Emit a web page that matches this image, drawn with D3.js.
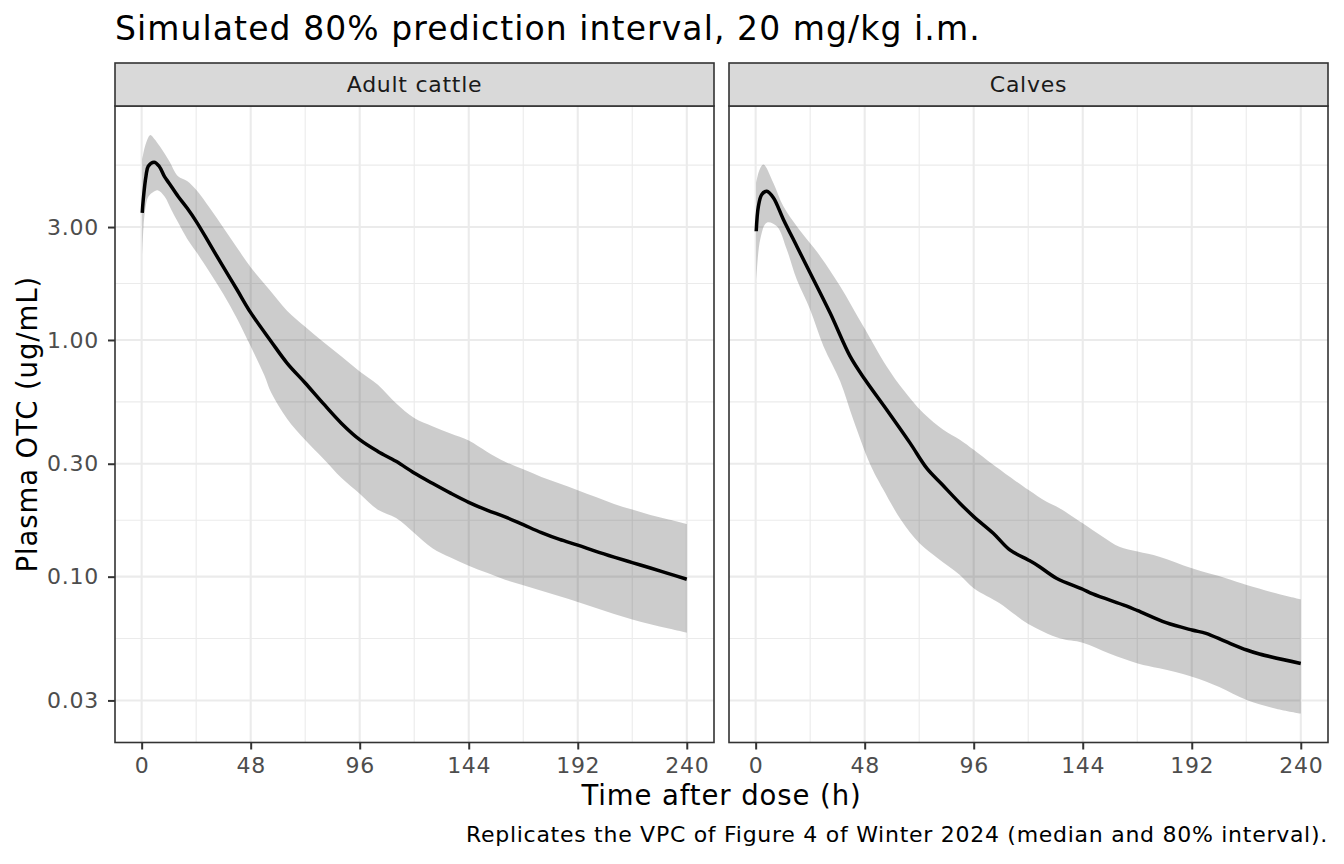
<!DOCTYPE html>
<html>
<head>
<meta charset="utf-8">
<script src="https://cdn.jsdelivr.net/npm/d3@7"></script>
<style>
  html, body { margin: 0; padding: 0; background: #fff; }
  svg { display: block; font-family: "DejaVu Sans", sans-serif; }
  svg text { letter-spacing: 0.033em; }
</style>
</head>
<body>
<svg id="chart" width="1344" height="864"></svg>
<script>
// facets
var panels = ["Adult cattle", "Calves"];

// adult cattle: median and 80% interval (time in h, conc in ug/mL)
var adultMedT = [0.25,0.7,1.9,2.9,5.5,7.7,10,12,16,20,24,30,36,42,48,57,64,72,80,88,96,104,112,120,128,136,144,152,160,168,176,184,192,200,208,216,224,232,240];
var adultMed  = [3.44,3.92,4.92,5.42,5.64,5.42,4.91,4.61,4.05,3.61,3.17,2.54,2.03,1.63,1.305,0.986,0.799,0.658,0.538,0.444,0.379,0.338,0.307,0.274,0.248,0.2253,0.206,0.191,0.179,0.1658,0.1535,0.1437,0.136,0.128,0.121,0.1147,0.1088,0.103,0.0975];
var adultUpT  = [0.25,1.5,3.8,5.5,8,12,16,20,24,30,36,42,48,56,64,72,80,88,96,104,112,120,128,136,144,152,160,168,176,184,192,200,208,216,224,232,240];
var adultUp   = [5.79,6.59,7.35,7.09,6.59,5.73,4.92,4.70,4.31,3.61,2.98,2.45,2.03,1.64,1.33,1.138,0.980,0.852,0.736,0.647,0.540,0.468,0.432,0.403,0.376,0.3375,0.306,0.284,0.264,0.2475,0.232,0.217,0.203,0.192,0.182,0.1746,0.167];
var adultLoT  = [0.25,0.8,1.9,3,5,7,10,13,16,20,24,30,36,42,48,54,57,64,72,80,88,96,104,112,120,128,136,144,152,160,168,176,184,192,200,208,216,224,232,240];
var adultLo   = [2.25,2.99,3.73,4.04,4.21,4.29,4.05,3.56,3.14,2.68,2.36,1.93,1.56,1.23,0.94,0.71,0.60,0.465,0.378,0.315,0.261,0.224,0.1917,0.177,0.153,0.132,0.1206,0.1113,0.1038,0.0971,0.092,0.0873,0.0826,0.0782,0.0737,0.0696,0.066,0.063,0.0604,0.058];

// calves
var calfMedT = [0.25,1.2,2.7,4.9,7.8,12.2,18.1,24,32.8,41.6,48.2,57.7,68,75.3,82,89.9,96,104.6,111.9,120,124.3,132.4,144,148.4,163.1,168.2,180.7,192.1,198.3,207.1,216.2,221.8,240];
var calfMed  = [2.88,3.67,4.12,4.25,3.99,3.23,2.49,1.92,1.30,0.852,0.679,0.507,0.3666,0.2874,0.2457,0.2044,0.1794,0.1526,0.1297,0.1177,0.1113,0.0985,0.0885,0.0845,0.0752,0.0718,0.0639,0.0595,0.0576,0.0531,0.0490,0.0471,0.0430];
var calfUpT  = [0.25,1.5,3.4,7.8,12.2,18.1,28.4,37.2,47.4,57.7,65,73.8,82.6,89.9,96,104.6,120,127.9,133.8,144,152.8,160.1,168.2,177.7,192.1,207.1,216.2,229.1,240];
var calfUp   = [4.61,5.17,5.51,4.61,3.67,3.02,2.26,1.686,1.142,0.773,0.616,0.491,0.4175,0.379,0.3436,0.297,0.2327,0.2077,0.1947,0.1682,0.1476,0.1339,0.1276,0.1215,0.1085,0.0985,0.0922,0.0851,0.0802];
var calfLoT  = [0.25,2,4.9,9.3,13.7,18.1,24,29.9,37.2,43,50.3,56,64,72,80,89.9,96,107.4,113.3,120,133.8,144,155.7,168.2,177.7,192.1,204.1,216.2,229.1,240];
var calfLo   = [1.742,2.66,3.13,3.02,2.41,1.80,1.343,0.9395,0.67,0.46,0.30,0.235,0.1737,0.1388,0.12,0.1017,0.0893,0.0772,0.07,0.0631,0.0549,0.0526,0.0474,0.043,0.041,0.0378,0.0342,0.0301,0.0277,0.0264];

// axes
var xBreaks = [0,48,96,144,192,240];
var xMinor = [24,72,120,168,216];
var yBreaks = [0.03,0.1,0.3,1,3];
var yLabels = ["0.03","0.10","0.30","1.00","3.00"];

var titleText = "Simulated 80% prediction interval, 20 mg/kg i.m.";
var xTitle = "Time after dose (h)";
var yTitle = "Plasma OTC (ug/mL)";
var caption = "Replicates the VPC of Figure 4 of Winter 2024 (median and 80% interval).";

function pts(t, v){ return t.map(function(d,i){ return {t:d, v:v[i]}; }); }

var series = [
  {med: pts(adultMedT, adultMed), up: pts(adultUpT, adultUp), lo: pts(adultLoT, adultLo)},
  {med: pts(calfMedT, calfMed),   up: pts(calfUpT, calfUp),   lo: pts(calfLoT, calfLo)}
];

var svg = d3.select("#chart");
var pTop = 106, pBot = 742.5, pW = 599, stripTop = 63;
var pLeft = [115, 729];

// shared scales, ggplot style 5% expansion (log space for y)
var allT = [].concat(adultMedT, adultUpT, adultLoT, calfMedT, calfUpT, calfLoT);
var allV = [].concat(adultMed, adultUp, adultLo, calfMed, calfUp, calfLo);
var tEx = d3.extent(allT), tPad = (tEx[1]-tEx[0])*0.05;
var lEx = d3.extent(allV).map(Math.log10), lPad = (lEx[1]-lEx[0])*0.05;
var yDomain = [Math.pow(10, lEx[0]-lPad), Math.pow(10, lEx[1]+lPad)];
var yMinor = [];
for (var i=0;i<yBreaks.length;i++){
  var b = yBreaks[i], nb = i<yBreaks.length-1 ? yBreaks[i+1] : b*10/3;
  var m = Math.sqrt(b*nb);
  if (m > yDomain[0] && m < yDomain[1]) yMinor.push(m);
}
var m0 = Math.sqrt(yBreaks[0]*yBreaks[0]/3);
if (m0 > yDomain[0]) yMinor.push(m0);

var y = d3.scaleLog().domain(yDomain).range([pBot, pTop]);

panels.forEach(function(name, k){
  var x0 = pLeft[k];
  var x = d3.scaleLinear().domain([tEx[0]-tPad, tEx[1]+tPad]).range([x0, x0+pW]);
  var g = svg.append("g");

  g.append("rect").attr("x", x0).attr("y", pTop).attr("width", pW).attr("height", pBot-pTop).attr("fill", "#fff");

  // minor grid
  g.selectAll(".vmin").data(xMinor).enter().append("line")
    .attr("x1", function(d){return x(d);}).attr("x2", function(d){return x(d);})
    .attr("y1", pTop).attr("y2", pBot).attr("stroke", "#EBEBEB").attr("stroke-width", 1.1);
  g.selectAll(".hmin").data(yMinor).enter().append("line")
    .attr("y1", function(d){return y(d);}).attr("y2", function(d){return y(d);})
    .attr("x1", x0).attr("x2", x0+pW).attr("stroke", "#EBEBEB").attr("stroke-width", 1.1);
  // major grid
  g.selectAll(".vmaj").data(xBreaks).enter().append("line")
    .attr("x1", function(d){return x(d);}).attr("x2", function(d){return x(d);})
    .attr("y1", pTop).attr("y2", pBot).attr("stroke", "#EBEBEB").attr("stroke-width", 2.1);
  g.selectAll(".hmaj").data(yBreaks).enter().append("line")
    .attr("y1", function(d){return y(d);}).attr("y2", function(d){return y(d);})
    .attr("x1", x0).attr("x2", x0+pW).attr("stroke", "#EBEBEB").attr("stroke-width", 2.1);

  var s = series[k];
  var line = d3.line().x(function(d){return x(d.t);}).y(function(d){return y(d.v);})
    .curve(d3.curveCatmullRom.alpha(0.5));

  // ribbon: upper edge forward, lower edge back
  var upPath = line(s.up);
  var loPath = line(s.lo.slice().reverse());
  g.append("path").attr("d", upPath + "L" + loPath.slice(1) + "Z")
    .attr("fill", "#000").attr("fill-opacity", 0.2).attr("stroke", "none");

  g.append("path").attr("d", line(s.med)).attr("fill", "none")
    .attr("stroke", "#000").attr("stroke-width", 3.5).attr("stroke-linejoin", "round");

  g.append("rect").attr("x", x0).attr("y", pTop).attr("width", pW).attr("height", pBot-pTop)
    .attr("fill", "none").attr("stroke", "#333").attr("stroke-width", 1.6);

  // strip
  g.append("rect").attr("x", x0).attr("y", stripTop).attr("width", pW).attr("height", pTop-stripTop)
    .attr("fill", "#D9D9D9").attr("stroke", "#333").attr("stroke-width", 1.6);
  g.append("text").attr("x", x0+pW/2).attr("y", 92).attr("text-anchor", "middle")
    .attr("font-size", 22).attr("fill", "#1A1A1A").text(name);

  // x axis
  var xa = svg.append("g").attr("transform", "translate(0," + pBot + ")")
    .call(d3.axisBottom(x).tickValues(xBreaks).tickSize(7).tickPadding(8).tickFormat(d3.format("d")));
  xa.select(".domain").remove();
  xa.selectAll(".tick line").attr("stroke", "#333").attr("stroke-width", 2);
  xa.selectAll(".tick text").attr("font-size", 22).attr("fill", "#4D4D4D")
    .attr("font-family", "DejaVu Sans");

  if (k == 0) {
    var ya = svg.append("g").attr("transform", "translate(" + x0 + ",0)")
      .call(d3.axisLeft(y).tickValues(yBreaks).tickSize(7).tickPadding(9)
        .tickFormat(function(d,i){ return yLabels[i]; }));
    ya.select(".domain").remove();
    ya.selectAll(".tick line").attr("stroke", "#333").attr("stroke-width", 2);
    ya.selectAll(".tick text").attr("font-size", 22).attr("fill", "#4D4D4D")
      .attr("font-family", "DejaVu Sans");
  }
});

// titles
svg.append("text").attr("x", 115).attr("y", 40).attr("font-size", 33).attr("fill", "#000").text(titleText);
svg.append("text").attr("x", (pLeft[0]+pLeft[1]+pW)/2).attr("y", 805).attr("text-anchor", "middle")
  .attr("font-size", 27.5).attr("fill", "#000").text(xTitle);
svg.append("text").attr("transform", "translate(37," + ((pTop+pBot)/2) + ") rotate(-90)")
  .attr("text-anchor", "middle").attr("font-size", 27.5).attr("fill", "#000").text(yTitle);
svg.append("text").attr("x", pLeft[1]+pW).attr("y", 842).attr("text-anchor", "end")
  .attr("font-size", 22).attr("fill", "#000").text(caption);
</script>
</body>
</html>
